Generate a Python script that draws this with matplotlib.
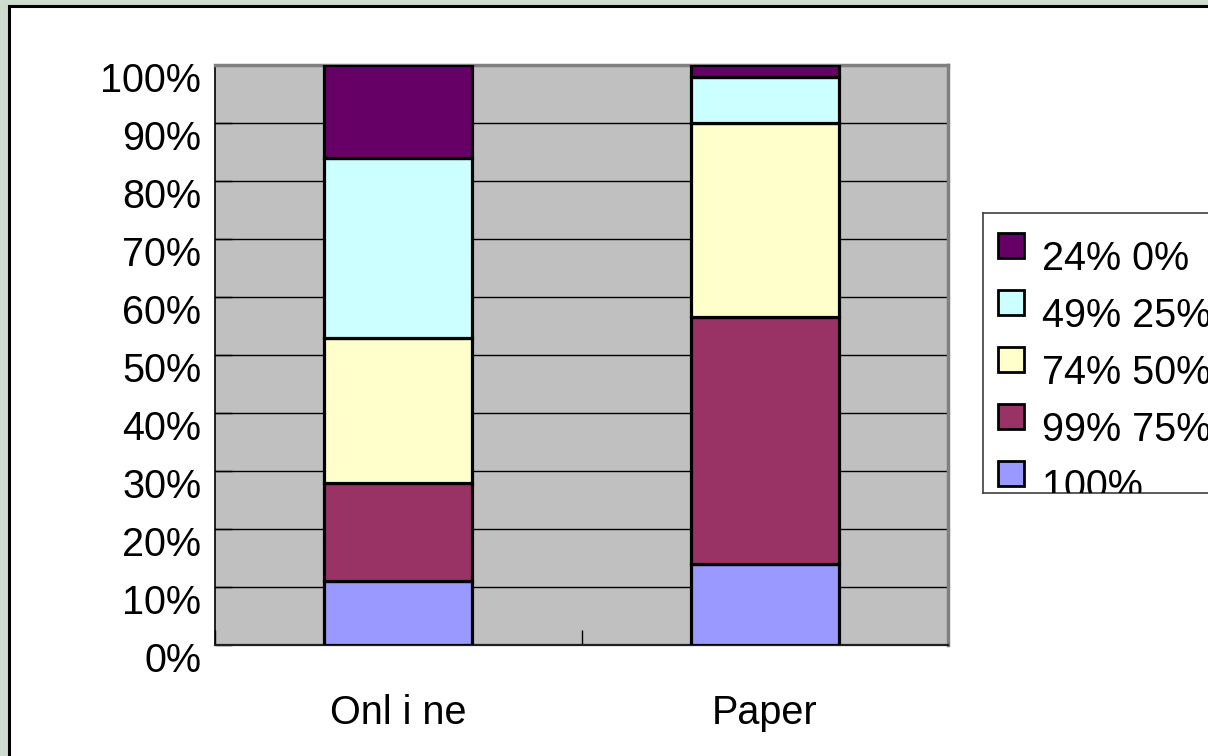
import matplotlib
matplotlib.use("Agg")
import matplotlib.pyplot as plt
import matplotlib.transforms as mtransforms
from matplotlib.patches import Rectangle
import numpy as np

plt.rcParams["font.family"] = ["Liberation Sans", "DejaVu Sans"]

categories = ["Onl i ne", "Paper"]
bands = ["100%", "99% 75%", "74% 50%", "49% 25%", "24% 0%"]
colors = ["#9999FF", "#993366", "#FFFFCC", "#CCFFFF", "#660066"]
# share of responses in each band (%), bottom band first
online = [11, 17, 25, 31, 16]
paper = [14, 42.5, 33.5, 8, 2]

W, H = 1208, 756
fig = plt.figure(figsize=(W / 100, H / 100), dpi=100, facecolor="#CDDCCF")

# white chart panel with dark border on the left/top
fig.patches.append(Rectangle((9 / W, -0.05), 1, 1.05 - 6 / H, transform=fig.transFigure,
                             facecolor="white", edgecolor="black", linewidth=2.2,
                             zorder=-10))

ax = fig.add_axes([215 / W, (H - 645) / H, (948 - 215) / W, (645 - 65) / H])
ax.set_facecolor("#C0C0C0")

x = np.arange(len(categories))
data = np.array([online, paper])
bottom = np.zeros(len(categories))
for i, (band, col) in enumerate(zip(bands, colors)):
    vals = data[:, i]
    ax.bar(x, vals, 0.405, bottom=bottom, color=col, edgecolor="black",
           linewidth=2.3, label=band, zorder=3)
    bottom += vals

ax.set_xlim(-0.5, 1.5)
ax.set_ylim(0, 100)
ax.set_yticks(np.arange(0, 101, 10))
ax.set_yticklabels([f"{v}%" for v in range(0, 101, 10)], fontsize=28.5)
ax.yaxis.grid(True, color="black", linewidth=1.0, zorder=1)
ax.set_axisbelow(True)
ax.tick_params(axis="y", direction="in", length=12, pad=10, width=1, color="black")
# labels sit a bit below their gridlines
off = mtransforms.ScaledTranslation(0, -12 / 100, fig.dpi_scale_trans)
for lab in ax.get_yticklabels():
    lab.set_transform(lab.get_transform() + off)

ax.set_xticks(x)
ax.set_xticklabels(categories, fontsize=28.5)
ax.tick_params(axis="x", which="major", length=0, pad=35)
ax.set_xticks([-0.5, 0.5, 1.5], minor=True)
ax.tick_params(axis="x", which="minor", direction="in", length=11, width=1, color="black")

for side in ["top", "right"]:
    ax.spines[side].set_color("#808080")
    ax.spines[side].set_linewidth(2.5)
ax.spines["left"].set_color("black")
ax.spines["left"].set_linewidth(1.2)
ax.spines["bottom"].set_color("#202020")
ax.spines["bottom"].set_linewidth(1.6)

# legend box, cut off at the panel edge like the original chart
lax = fig.add_axes([983 / W, (H - 493) / H, 0.3, (493 - 213) / H])
lax.set_xlim(0, 0.3 * W)
lax.set_ylim(493 - 213, 0)
lax.set_xticks([])
lax.set_yticks([])
for s in lax.spines.values():
    s.set_color("#404040")
    s.set_linewidth(1.2)
for i, (band, col) in enumerate(zip(bands[::-1], colors[::-1])):
    yc = 32 + 57 * i
    lax.add_patch(Rectangle((15, yc - 12), 26, 25, facecolor=col, edgecolor="black",
                            linewidth=2, clip_on=True))
    lax.text(59, yc + 14, band, fontsize=28.5, va="center", ha="left", clip_on=True)

fig.savefig("out.png", dpi=100, facecolor=fig.get_facecolor())
